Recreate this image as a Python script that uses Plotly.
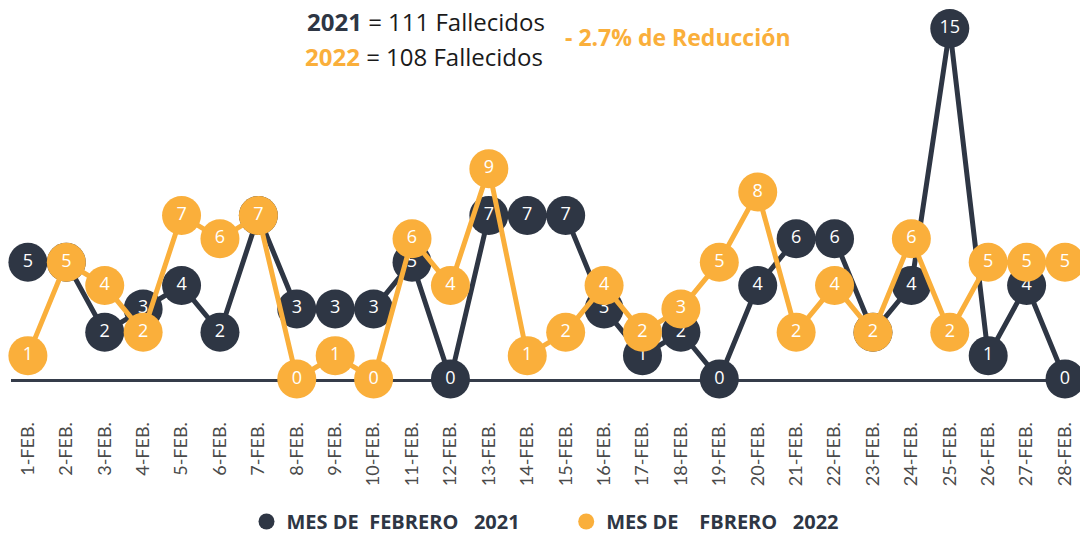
import plotly.graph_objects as go

days = ["1-FEB.", "2-FEB.", "3-FEB.", "4-FEB.", "5-FEB.", "6-FEB.", "7-FEB.",
        "8-FEB.", "9-FEB.", "10-FEB.", "11-FEB.", "12-FEB.", "13-FEB.", "14-FEB.",
        "15-FEB.", "16-FEB.", "17-FEB.", "18-FEB.", "19-FEB.", "20-FEB.", "21-FEB.",
        "22-FEB.", "23-FEB.", "24-FEB.", "25-FEB.", "26-FEB.", "27-FEB.", "28-FEB."]
values_2021 = [5, 5, 2, 3, 4, 2, 7, 3, 3, 3, 5, 0, 7, 7, 7, 3, 1, 2, 0, 4, 6, 6, 2, 4, 15, 1, 4, 0]
values_2022 = [1, 5, 4, 2, 7, 6, 7, 0, 1, 0, 6, 4, 9, 1, 2, 4, 2, 3, 5, 8, 2, 4, 2, 6, 2, 5, 5, 5]
name_2021 = "MES DE\u00a0\u00a0FEBRERO\u00a0\u00a0\u00a02021"
name_2022 = "MES DE\u00a0\u00a0\u00a0\u00a0FBRERO\u00a0\u00a0\u00a02022"

DARK = "#2E3644"
ORANGE = "#FAAF3B"

fig = go.Figure()
for vals, col in [(values_2021, DARK), (values_2022, ORANGE)]:
    fig.add_trace(go.Scatter(
        x=days, y=vals, mode="lines+markers+text",
        line=dict(color=col, width=5),
        marker=dict(color=col, size=39, line=dict(width=0)),
        text=[str(v) for v in vals], textposition="middle center",
        textfont=dict(color="white", size=18, family="Open Sans"),
        cliponaxis=False, showlegend=False, hoverinfo="skip"))

fig.add_trace(go.Scatter(x=[None], y=[None], mode="markers", name=name_2021 + "\u00a0" * 8,
                         marker=dict(color=DARK, size=18)))
fig.add_trace(go.Scatter(x=[None], y=[None], mode="markers", name=name_2022,
                         marker=dict(color=ORANGE, size=18)))

fig.update_layout(
    width=1080, height=535,
    margin=dict(l=11, r=0, t=0, b=155.5, autoexpand=False),
    paper_bgcolor="white", plot_bgcolor="white",
    showlegend=True,
    legend=dict(orientation="h", x=0.5, xanchor="center", y=-0.376, yanchor="middle",
                font=dict(family="Open Sans", size=20, color=DARK, weight="bold"),
                itemsizing="trace", bgcolor="rgba(0,0,0,0)"),
    xaxis=dict(type="category", range=[-0.44, 27.39], showgrid=False, zeroline=False,
               showline=True, linecolor="#353C4A", linewidth=3, layer="below traces",
               ticks="outside", ticklen=33, tickcolor="rgba(0,0,0,0)",
               tickangle=-90, tickfont=dict(family="Lato", size=18, color="#4a4a4a")),
    yaxis=dict(range=[0, 16.22], visible=False, showgrid=False, zeroline=False),
    annotations=[
        dict(xref="paper", yref="paper", x=0.275, y=0.942, xanchor="left", yanchor="middle",
             showarrow=False,
             text="<b><span style='color:#2E3644'>2021</span></b> = 111 Fallecidos",
             font=dict(family="Open Sans", size=24, color="#1a1a1a")),
        dict(xref="paper", yref="paper", x=0.273, y=0.85, xanchor="left", yanchor="middle",
             showarrow=False,
             text="<b><span style='color:#FAAF3B'>2022</span></b> = 108 Fallecidos",
             font=dict(family="Open Sans", size=24, color="#1a1a1a")),
        dict(xref="paper", yref="paper", x=0.516, y=0.9025, xanchor="left", yanchor="middle",
             showarrow=False,
             text="<b>- 2.7% de Reducción</b>",
             font=dict(family="Open Sans", size=23, color=ORANGE)),
    ],
)

fig.write_html("out.html", config={"displayModeBar": False},
               post_script="document.body.style.margin='0';document.body.style.overflow='hidden';")
